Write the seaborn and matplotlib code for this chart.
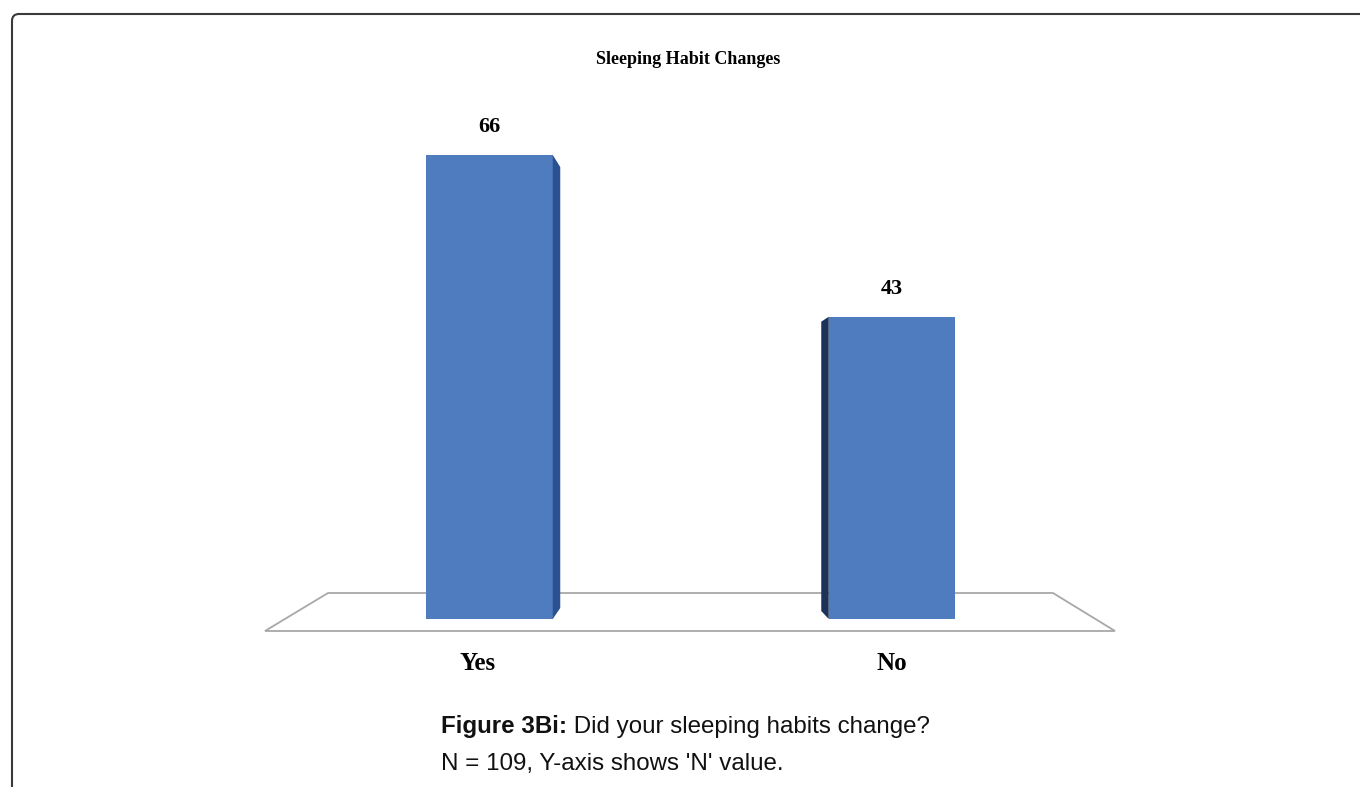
import matplotlib
matplotlib.use("Agg")
import matplotlib.pyplot as plt
from matplotlib.patches import Polygon
from matplotlib.path import Path
from matplotlib.patches import PathPatch
import seaborn as sns
import pandas as pd

# Survey answers
categories = ["Yes", "No"]
counts = [66, 43]

title = "Sleeping Habit Changes"
caption_bold = "Figure 3Bi:"
caption_rest = " Did your sleeping habits change?"
caption_line2 = "N = 109, Y-axis shows 'N' value."

sns.set_theme(style="white")
plt.rcParams["font.family"] = ["Liberation Serif", "DejaVu Serif"]

W, H = 1360, 787
fig = plt.figure(figsize=(W / 100, H / 100), dpi=100)
fig.patch.set_facecolor("white")
ax = fig.add_axes([0, 0, 1, 1])
ax.set_facecolor("none")

# Scales: category spacing and units per pixel
cat_px = 402.5
first_px = 489.5
unit_px = 7.03
base_px_from_bottom = 168
xlim = (-first_px / cat_px, (W - first_px) / cat_px)
ylim = (-base_px_from_bottom / unit_px, (H - base_px_from_bottom) / unit_px)

front = "#4f7bbf"
df = pd.DataFrame({"answer": categories, "n": counts})

sns.barplot(data=df, x="answer", y="n", ax=ax, color=front, saturation=1,
            width=126.5 / cat_px, linewidth=0, zorder=3)
ax.set_xlim(*xlim)
ax.set_ylim(*ylim)
bars = list(ax.containers[0])

# Floor plane (parallelogram) behind the bars
fx = lambda px: (px - first_px) / cat_px
fy = lambda px_top: ((H - px_top) - base_px_from_bottom) / unit_px
floor = Polygon([(fx(328), fy(593)), (fx(1053), fy(593)),
                 (fx(1115), fy(631)), (fx(265), fy(631))],
                closed=True, facecolor="white", edgecolor="#a8a8a8",
                linewidth=1.3, zorder=1)
ax.add_patch(floor)

# Depth faces on the bars
dx = 7.5 / cat_px
side_specs = [  # (side, colour, top drop px, bottom rise px)
    ("right", "#2c5190", 12, 11),
    ("left", "#1c3259", 5, 8),
]
for bar, (side, col, top_drop, bot_rise) in zip(bars, side_specs):
    x0 = bar.get_x()
    x1 = x0 + bar.get_width()
    h = bar.get_height()
    td = top_drop / unit_px
    br = bot_rise / unit_px
    if side == "right":
        pts = [(x1, h), (x1 + dx, h - td), (x1 + dx, br), (x1, 0)]
    else:
        pts = [(x0, h), (x0 - dx, h - td), (x0 - dx, br), (x0, 0)]
    ax.add_patch(Polygon(pts, closed=True, facecolor=col, edgecolor="none",
                         zorder=3))
    ax.annotate(f"{h:.0f}", xy=(x0 + bar.get_width() / 2, h),
                xytext=(0, 20), textcoords="offset points",
                ha="center", va="center", fontsize=16, fontweight="bold",
                color="black", zorder=5)

# Category labels under the floor
for i, lab in enumerate(categories):
    ax.text(i - 0.03 if i == 0 else i, fy(663), lab, ha="center", va="center",
            fontsize=18, fontweight="bold", color="black")

ax.set_axis_off()

fig.text(688 / W, 1 - 60 / H, title, ha="center", va="center",
         fontsize=13, fontweight="bold", color="black")

# Caption in a sans face
cap_font = ["Liberation Sans", "DejaVu Sans"]
cap_size = 17.4
t1 = fig.text(441 / W, 1 - 733 / H, caption_bold, ha="left", va="baseline",
              fontsize=cap_size, fontweight="bold", family=cap_font,
              color="#111111")
fig.canvas.draw()
bb = t1.get_window_extent()
fig.text(bb.x1 / W, 1 - 733 / H, caption_rest, ha="left", va="baseline",
         fontsize=cap_size, family=cap_font, color="#111111")
fig.text(441 / W, 1 - 770 / H, caption_line2, ha="left", va="baseline",
         fontsize=cap_size, family=cap_font, color="#111111")

# Panel frame: top and left edges with a rounded corner
r = 7
verts = [(W, H - 14), (12 + r, H - 14), (12, H - 14), (12, H - 14 - r), (12, 0)]
codes = [Path.MOVETO, Path.LINETO, Path.CURVE3, Path.CURVE3, Path.LINETO]
frame = PathPatch(Path([(x / W, y / H) for x, y in verts], codes),
                  transform=fig.transFigure, facecolor="none",
                  edgecolor="#3a3a3a", linewidth=1.5)
fig.add_artist(frame)

fig.savefig("out.png", dpi=100, facecolor="white")
